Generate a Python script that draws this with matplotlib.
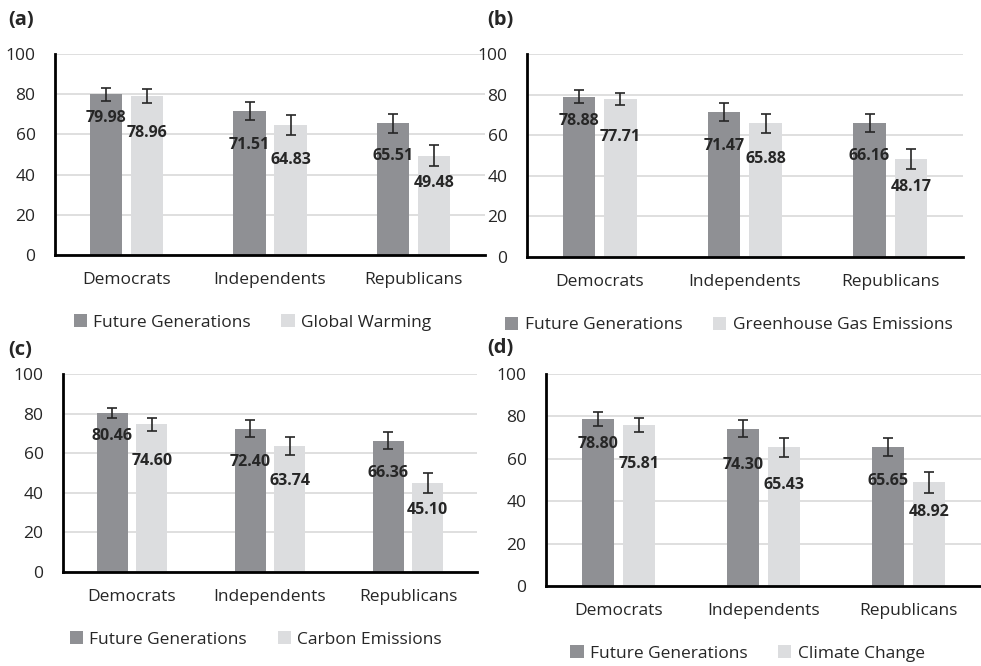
import numpy as np
import matplotlib
matplotlib.use("Agg")
import matplotlib.pyplot as plt

plt.rcParams['font.family'] = ['Open Sans', 'DejaVu Sans']

# party groups shown on every panel
parties = ["Democrats", "Independents", "Republicans"]

# panel letters and the second frame in each panel
panel_letters = ["(a)", "(b)", "(c)", "(d)"]
frame_names = ["Global Warming", "Greenhouse Gas Emissions", "Carbon Emissions", "Climate Change"]

# Future Generations means and errors
fg_a = [79.98, 71.51, 65.51]
fg_b = [78.88, 71.47, 66.16]
fg_c = [80.46, 72.40, 66.36]
fg_d = [78.80, 74.30, 65.65]
fg_err_a = [3.2, 4.4, 4.6]
fg_err_b = [3.2, 4.6, 4.5]
fg_err_c = [2.6, 4.2, 4.2]
fg_err_d = [3.3, 3.9, 4.4]

# second frame means and errors
other_a = [78.96, 64.83, 49.48]
other_b = [77.71, 65.88, 48.17]
other_c = [74.60, 63.74, 45.10]
other_d = [75.81, 65.43, 48.92]
other_err_a = [3.4, 5.0, 5.3]
other_err_b = [3.0, 4.7, 4.8]
other_err_c = [3.3, 4.5, 5.0]
other_err_d = [3.3, 4.6, 5.0]

fg_vals = [fg_a, fg_b, fg_c, fg_d]
fg_errs = [fg_err_a, fg_err_b, fg_err_c, fg_err_d]
other_vals = [other_a, other_b, other_c, other_d]
other_errs = [other_err_a, other_err_b, other_err_c, other_err_d]

dark = "#8f9094"
light = "#dcdddf"
txt = "#262626"

# how far below the bar top each value label sits (in data units)
lab_drop_dark = [11.7, 17.0, 16.2]
lab_drop_light = [18.4, 17.7, 13.9]

# axes boxes [left, bottom, width, height] in figure fractions
boxes = [
    [0.0561, 0.6171, 0.4383, 0.3018],
    [0.5372, 0.6141, 0.4444, 0.3048],
    [0.0642, 0.1411, 0.4220, 0.2973],
    [0.5566, 0.1201, 0.4434, 0.3183],
]
# where the letters and legends go (figure fractions)
letter_pos = [(0.008, 0.970), (0.497, 0.970), (0.008, 0.475), (0.497, 0.478)]
legend_pos = [(0.257, 0.516), (0.743, 0.512), (0.261, 0.040), (0.762, 0.019)]

fig = plt.figure(figsize=(9.81, 6.66), dpi=100)

x = np.arange(len(parties))
w = 0.224
off = 0.143

for i in range(4):
    ax = fig.add_axes(boxes[i])
    ax.set_axisbelow(True)
    ax.bar(x - off, fg_vals[i], w, color=dark, label="Future Generations", zorder=2)
    ax.bar(x + off, other_vals[i], w, color=light, label=frame_names[i], zorder=2)
    ax.errorbar(x - off, fg_vals[i], yerr=fg_errs[i], fmt="none", ecolor=txt,
                elinewidth=1.2, capsize=3.8, capthick=1.2, zorder=3)
    ax.errorbar(x + off, other_vals[i], yerr=other_errs[i], fmt="none", ecolor=txt,
                elinewidth=1.2, capsize=3.8, capthick=1.2, zorder=3)

    # value labels inside the bars
    for j in range(len(parties)):
        ax.text(x[j] - off, fg_vals[i][j] - lab_drop_dark[j], "%.2f" % fg_vals[i][j],
                ha="center", va="center", fontsize=11.5, fontweight="bold", color=txt, zorder=4)
        ax.text(x[j] + off, other_vals[i][j] - lab_drop_light[j], "%.2f" % other_vals[i][j],
                ha="center", va="center", fontsize=11.5, fontweight="bold", color=txt, zorder=4)

    ax.set_xlim(-0.5, 2.5)
    ax.set_ylim(0, 100)
    ax.set_yticks([0, 20, 40, 60, 80, 100])
    ax.set_xticks(x)
    ax.set_xticklabels(parties)
    ax.tick_params(axis="both", length=0, labelsize=12.5, colors=txt)
    ax.tick_params(axis="y", pad=14)
    ax.tick_params(axis="x", pad=12)
    ax.grid(axis="y", color="#d9d9d9", linewidth=1.2)
    for s in ["top", "right"]:
        ax.spines[s].set_visible(False)
    for s in ["left", "bottom"]:
        ax.spines[s].set_color("black")
        ax.spines[s].set_linewidth(2)
        ax.spines[s].set_zorder(5)

    ax.legend(loc="center", bbox_to_anchor=legend_pos[i], bbox_transform=fig.transFigure,
              ncol=2, frameon=False, fontsize=12.5, handlelength=0.75, handleheight=0.75,
              handletextpad=0.35, columnspacing=1.8, labelcolor=txt)

    fig.text(letter_pos[i][0], letter_pos[i][1], panel_letters[i], fontsize=14.5,
             fontweight="bold", color=txt, va="center", ha="left")

fig.savefig("out.png", dpi=100)
